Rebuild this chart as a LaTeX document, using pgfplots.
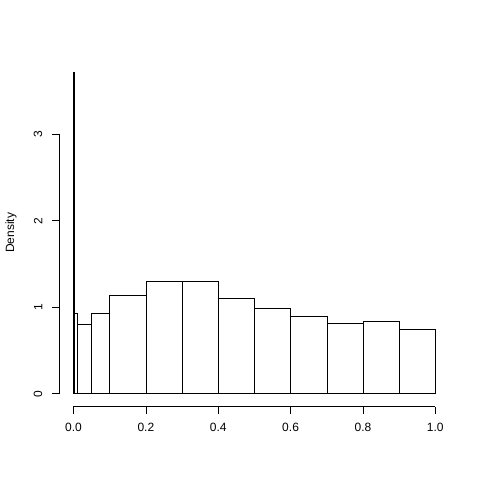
\documentclass[border=0pt]{standalone}
\usepackage{pgfplots}
\pgfplotsset{compat=1.18}
\usepackage{fontspec}
\setmainfont{Liberation Sans}
\begin{document}
\begin{tikzpicture}
\path[use as bounding box] (0,0) rectangle (480bp,480bp);
\begin{axis}[
  at={(59bp,73.4bp)}, anchor=south west,
  scale only axis, width=390.8bp, height=347.6bp,
  xmin=-0.04, xmax=1.04, ymin=-0.1488, ymax=3.8688,
  axis line style={draw=none},
  xtick pos=bottom, ytick pos=left,
  tick align=outside, major tick length=7.2bp,
  tick style={black, line width=0.6pt},
  xtick={0,0.2,0.4,0.6,0.8,1},
  ytick={0,1,2,3},
  xticklabel style={/pgf/number format/.cd, fixed, fixed zerofill, precision=1},
  /pgf/number format/assume math mode=true,
  xticklabel shift=6bp,
  yticklabel shift=6bp,
  yticklabel style={rotate=90, anchor=south},
  font=\fontsize{12bp}{14bp}\selectfont,
  clip=false,
]
\addplot[ybar interval, draw=black, fill=white, line width=0.5pt] coordinates {
(0,3.72) (0.001,0.933) (0.01,0.805) (0.05,0.933) (0.1,1.133) (0.2,1.298) (0.3,1.30) (0.4,1.098) (0.5,0.99) (0.6,0.90) (0.7,0.817) (0.8,0.836) (0.9,0.748) (1,0.748)};
\draw[line width=0.6pt] (axis cs:0,-0.1488) -- (axis cs:1,-0.1488);
\draw[line width=0.6pt] (axis cs:-0.04,0) -- (axis cs:-0.04,3);
\node[rotate=90, anchor=center] at ([xshift=-48bp]rel axis cs:0,0.5) {Density};
\end{axis}
\end{tikzpicture}
\end{document}
